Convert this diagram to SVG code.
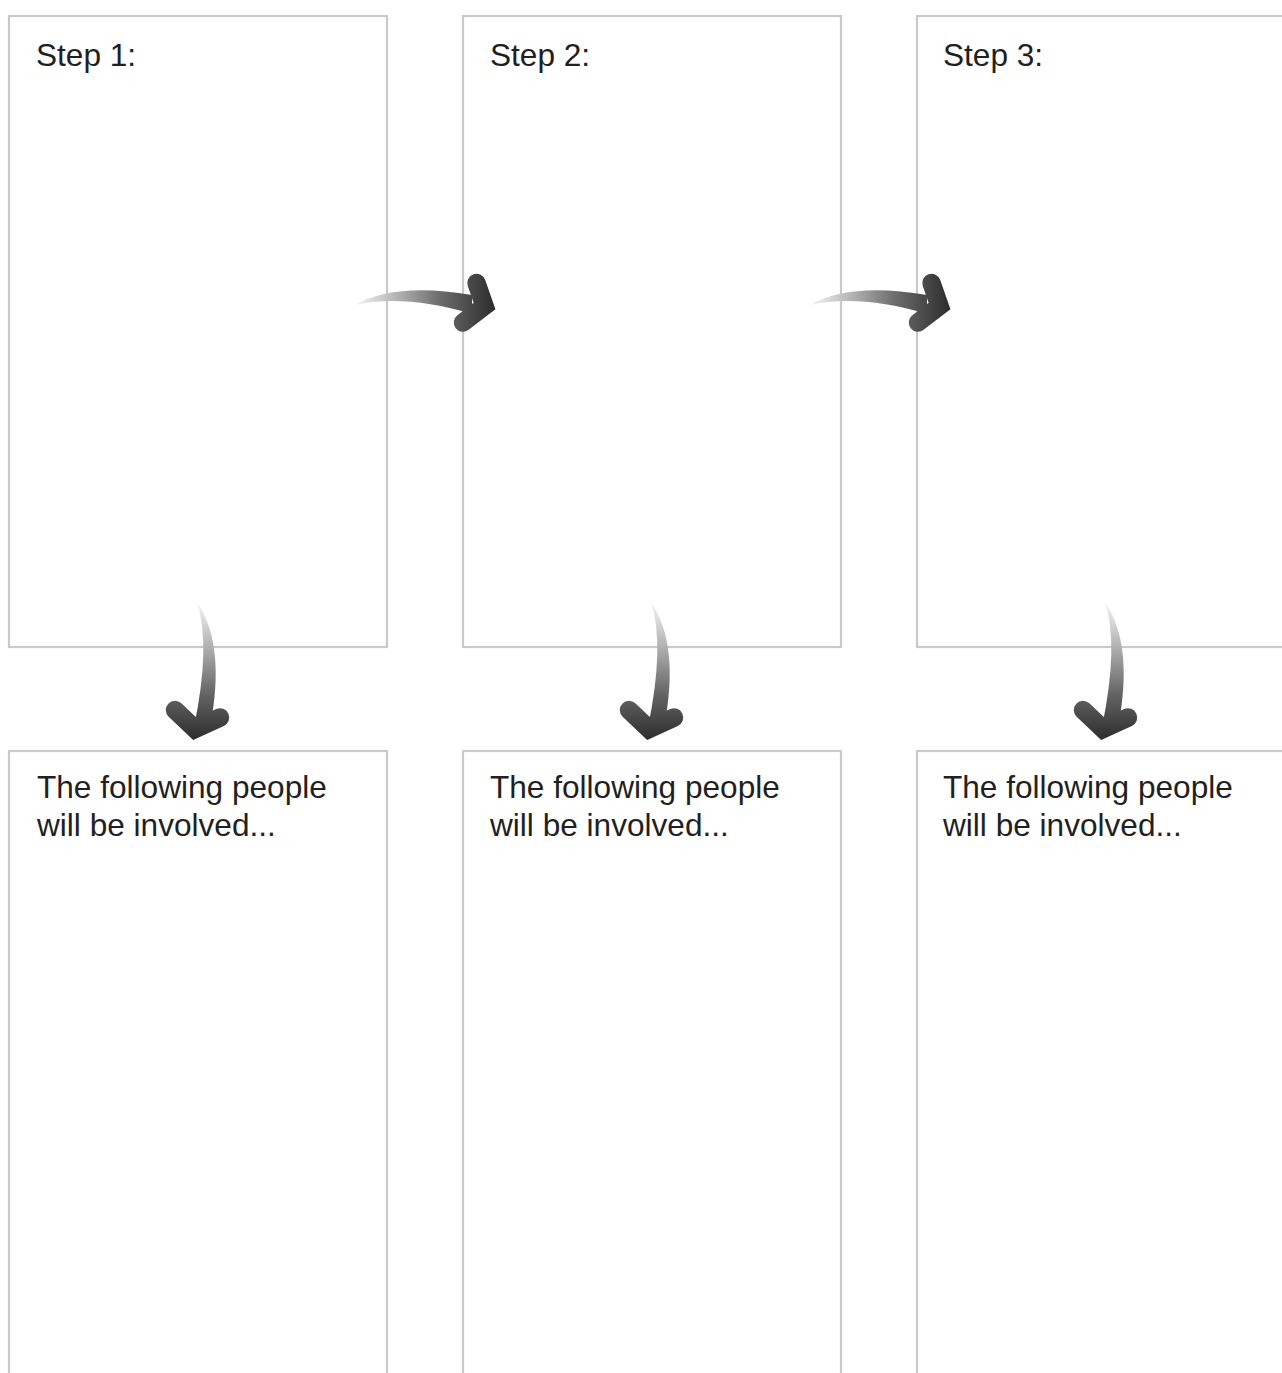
<svg xmlns="http://www.w3.org/2000/svg" width="1282" height="1373" viewBox="0 0 1282 1373">
<style>
.box{fill:none;stroke:#c9c9c9;stroke-width:2.2}
.lbl{font-family:"Liberation Sans",Arial,sans-serif;font-size:31.6px;fill:#231f20}
</style>
<defs>
<linearGradient id="gh" gradientUnits="userSpaceOnUse" x1="355" y1="0" x2="497" y2="0">
<stop offset="0" stop-color="#f6f6f6"/>
<stop offset="0.25" stop-color="#bdbdbd"/>
<stop offset="0.6" stop-color="#6c6c6c"/>
<stop offset="1" stop-color="#2a2a2a"/>
</linearGradient>
<linearGradient id="gv" gradientUnits="userSpaceOnUse" x1="0" y1="602" x2="0" y2="742">
<stop offset="0" stop-color="#f6f6f6"/>
<stop offset="0.3" stop-color="#b5b5b5"/>
<stop offset="0.65" stop-color="#666"/>
<stop offset="1" stop-color="#2a2a2a"/>
</linearGradient>
<g id="harrow">
<path d="M355,305 Q395,282 472,295 L472,314 Q405,294 355,305 Z" fill="url(#gh)"/>
<polyline points="476.5,283 484.5,306 463,322.5" fill="none" stroke="url(#gh)" stroke-width="18.5" stroke-linecap="round" stroke-linejoin="miter"/>
</g>
<g id="varrow">
<path d="M197,602 Q211,645 194,727 L210,727 Q226,645 197,602 Z" fill="url(#gv)"/>
<polyline points="175,710 195,729 220,717.5" fill="none" stroke="url(#gv)" stroke-width="18.5" stroke-linecap="round" stroke-linejoin="miter"/>
</g>
</defs>
<rect width="1282" height="1373" fill="#fff"/>
<g id="step1">
<rect class="box" x="9" y="16" width="378" height="631"/>
<text class="lbl" x="36" y="66">Step 1:</text>
</g>
<g id="step2">
<rect class="box" x="463" y="16" width="378" height="631"/>
<text class="lbl" x="490" y="66">Step 2:</text>
</g>
<g id="step3">
<rect class="box" x="917" y="16" width="378" height="631"/>
<text class="lbl" x="943" y="66">Step 3:</text>
</g>
<g id="people1">
<rect class="box" x="9" y="751" width="378" height="700"/>
<text class="lbl" x="37" y="798">The following people</text>
<text class="lbl" x="37" y="836">will be involved...</text>
</g>
<g id="people2">
<rect class="box" x="463" y="751" width="378" height="700"/>
<text class="lbl" x="490" y="798">The following people</text>
<text class="lbl" x="490" y="836">will be involved...</text>
</g>
<g id="people3">
<rect class="box" x="917" y="751" width="378" height="700"/>
<text class="lbl" x="943" y="798">The following people</text>
<text class="lbl" x="943" y="836">will be involved...</text>
</g>
<g id="connectors">
<use href="#harrow"/>
<use href="#harrow" transform="translate(455,0)"/>
<use href="#varrow"/>
<use href="#varrow" transform="translate(454,0)"/>
<use href="#varrow" transform="translate(908,0)"/>
</g>
</svg>
